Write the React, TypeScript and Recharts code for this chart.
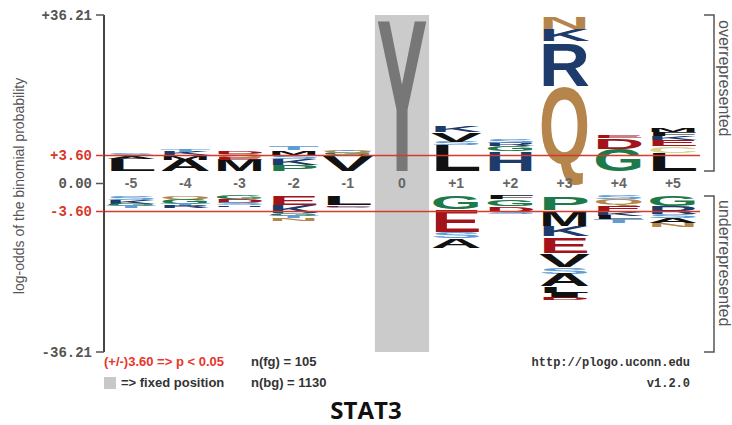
import React from "react";
import {
  ComposedChart,
  Bar,
  Line,
  XAxis,
  YAxis,
  ReferenceArea,
  ReferenceLine,
  LabelList,
} from "recharts";

// positions around the fixed residue
const positions = ["-5", "-4", "-3", "-2", "-1", "0", "+1", "+2", "+3", "+4", "+5"];

// overrepresented residues, stacked from the axis upward
const overLetters = [
  ["L", "A", "S"],
  ["A", "M", "K", "T"],
  ["M", "E", "Q", "D"],
  ["P", "K", "S", "M", "T"],
  ["V", "G", "Q", "T"],
  ["Y"],
  ["L", "S", "V", "K"],
  ["H", "G", "R", "S"],
  ["Q", "R", "K", "N"],
  ["G", "D", "E"],
  ["L", "C", "E", "K", "F", "M"],
];
const overHeights = [
  [2.8, 0.6, 0.5],
  [2.6, 1.0, 0.8, 0.7],
  [2.6, 0.7, 0.6, 0.5],
  [1.4, 1.4, 1.0, 1.0, 0.9],
  [3.6, 0.6, 0.5, 0.4],
  [36.21],
  [6.0, 0.8, 2.2, 1.4],
  [4.6, 1.2, 0.8, 0.9],
  [19.8, 10.3, 2.8, 2.6],
  [5.2, 2.5, 0.6],
  [4.2, 1.5, 1.4, 1.0, 1.0, 1.0],
];

// underrepresented residues, stacked from the axis downward
const underLetters = [
  ["S", "K", "G", "T"],
  ["Q", "G", "T", "R"],
  ["G", "D", "S", "H"],
  ["E", "K", "G", "T", "N"],
  ["L", "E", "S"],
  [],
  ["G", "E", "S", "A"],
  ["F", "G", "D", "S"],
  ["P", "M", "K", "E", "V", "S", "A", "L", "I", "D"],
  ["S", "Q", "E", "K", "L", "T"],
  ["G", "R", "S", "A", "N"],
];
const underHeights = [
  [1.0, 0.8, 0.6, 0.5],
  [0.7, 1.2, 0.5, 0.5],
  [0.8, 0.8, 0.5, 0.4],
  [2.2, 1.8, 0.6, 0.6, 0.6],
  [2.2, 0.4, 0.3],
  [],
  [3.0, 5.3, 1.5, 2.2],
  [0.8, 1.6, 1.2, 0.6],
  [3.2, 3.8, 2.4, 3.8, 3.2, 1.6, 3.0, 1.4, 1.2, 0.6],
  [0.8, 1.2, 1.6, 1.0, 0.8, 0.8],
  [2.3, 1.8, 1.0, 1.2, 0.8],
];

const tickValues = [36.21, 3.6, 0, -3.6, -36.21];
const tickLabels = ["+36.21", "+3.60", "0.00", "-3.60", "-36.21"];

const residueColors: Record<string, string> = {
  A: "#111111", V: "#111111", L: "#111111", I: "#111111", M: "#111111", F: "#111111", W: "#111111",
  K: "#1d3b6b", R: "#1d3b6b", H: "#1d3b6b",
  D: "#a3141a", E: "#a3141a",
  N: "#b5854b", Q: "#b5854b",
  G: "#1f7a4b", P: "#1f7a4b",
  S: "#5f9cd4", T: "#5f9cd4",
  C: "#d9d391",
  Y: "#777777",
};
const fixedColor = "#777777";
const sigColor = "#d63a2c";

const TOP = 36.21;
const SIG = 3.6;
const GAP = 5.8; // room for the position labels between the halves
const toChart = (v: number) => (v > 0 ? v : v === 0 ? -GAP / 2 : v - GAP);
const chartTicks = tickValues.map(toChart);

const OVER_LAYERS = 6;
const UNDER_LAYERS = 10;

const rows = positions.map((pos, i) => {
  const row: any = { pos, gap: -GAP, mid: -GAP / 2 };
  for (let k = 0; k < OVER_LAYERS; k++) {
    row[`u${k}`] = overHeights[i][k] ?? 0;
    row[`uL${k}`] = overLetters[i][k];
  }
  for (let k = 0; k < UNDER_LAYERS; k++) {
    row[`d${k}`] = -(underHeights[i][k] ?? 0);
    row[`dL${k}`] = underLetters[i][k];
  }
  return row;
});

const CAP = 71.6; // cap height of Liberation Sans Bold at 100px

const letterShape = (letterKey: string) => (props: any) => {
  const { x, y, width, height, payload } = props;
  const letter: string | undefined = payload?.[letterKey];
  if (!letter || !height || Math.abs(height) < 0.3) return <g />;
  const top = Math.min(y, y + height);
  const h = Math.abs(height);
  // Q has a tail below the baseline, keep it inside the cell
  const desc = letter === "Q" ? 7 : 0;
  const sy = h / (CAP + desc);
  const fill = payload.pos === "0" ? fixedColor : residueColors[letter] ?? "#111";
  return (
    <text
      transform={`translate(${x},${top + h - desc * sy}) scale(1,${sy})`}
      x={0}
      y={0}
      fontSize={100}
      fontFamily="'Liberation Sans', Arial, sans-serif"
      fontWeight="bold"
      fill={fill}
      textLength={width}
      lengthAdjust="spacingAndGlyphs"
    >
      {letter}
    </text>
  );
};

const renderYTick = (props: any) => {
  const { x, y, payload } = props;
  const i = chartTicks.findIndex((t) => Math.abs(t - payload.value) < 1e-6);
  if (i < 0) return <g />;
  const red = Math.abs(tickValues[i]) === SIG;
  const color = red ? sigColor : "#555";
  return (
    <g>
      <line x1={x - 8} y1={y} x2={x} y2={y} stroke={red ? sigColor : "#555"} strokeWidth={1.5} />
      <text
        x={x - 12}
        y={y}
        dy="0.35em"
        textAnchor="end"
        fontFamily="'Liberation Mono', 'Courier New', monospace"
        fontWeight="bold"
        fontSize={14}
        fill={color}
      >
        {tickLabels[i]}
      </text>
    </g>
  );
};

const renderPosLabel = (props: any) => {
  const { x, y, value } = props;
  return (
    <text
      x={x}
      y={y}
      dy="0.35em"
      textAnchor="middle"
      fontFamily="'Liberation Sans', Arial, sans-serif"
      fontWeight="bold"
      fontSize={14}
      fill="#666"
    >
      {value}
    </text>
  );
};

const frameLine = { stroke: "#444", strokeWidth: 2 };

export default function App() {
  return (
    <div style={{ position: "absolute", left: 0, top: 0, width: 732, height: 425, background: "#fff" }}>
      <ComposedChart
        width={732}
        height={360}
        data={rows}
        margin={{ top: 15, right: 32, bottom: 8, left: 0 }}
        barCategoryGap="3%"
        stackOffset="sign"
      >
        <ReferenceArea x1="0" x2="0" fill="#cbcbcb" fillOpacity={1} stroke="none" />
        <XAxis dataKey="pos" tick={false} tickLine={false} height={0} axisLine={frameLine} />
        <XAxis
          xAxisId="top"
          orientation="top"
          dataKey="pos"
          tick={false}
          tickLine={false}
          height={0}
          axisLine={frameLine}
        />
        <YAxis
          type="number"
          domain={[toChart(-TOP), TOP]}
          ticks={chartTicks}
          interval={0}
          allowDataOverflow
          width={104}
          tickLine={false}
          tickSize={0}
          tickMargin={0}
          tick={renderYTick}
          axisLine={frameLine}
        />
        <YAxis
          yAxisId="right"
          orientation="right"
          type="number"
          domain={[toChart(-TOP), TOP]}
          width={0}
          tick={false}
          tickLine={false}
          axisLine={frameLine}
        />
        <Bar dataKey="gap" stackId="s" fill="none" isAnimationActive={false} />
        {Array.from({ length: UNDER_LAYERS }, (_, k) => (
          <Bar
            key={`d${k}`}
            dataKey={`d${k}`}
            stackId="s"
            isAnimationActive={false}
            shape={letterShape(`dL${k}`)}
          />
        ))}
        {Array.from({ length: OVER_LAYERS }, (_, k) => (
          <Bar
            key={`u${k}`}
            dataKey={`u${k}`}
            stackId="s"
            isAnimationActive={false}
            shape={letterShape(`uL${k}`)}
          />
        ))}
        <ReferenceLine y={SIG} stroke={sigColor} strokeWidth={1.5} />
        <ReferenceLine y={toChart(-SIG)} stroke={sigColor} strokeWidth={1.5} />
        <Line
          dataKey="mid"
          stroke="none"
          dot={false}
          activeDot={false}
          isAnimationActive={false}
        >
          <LabelList dataKey="pos" content={renderPosLabel} />
        </Line>
      </ComposedChart>

      <svg
        width={732}
        height={425}
        style={{ position: "absolute", left: 0, top: 0, pointerEvents: "none" }}
      >
        <text
          transform="translate(24,186) rotate(-90)"
          textAnchor="middle"
          fontFamily="'Liberation Sans', Arial, sans-serif"
          fontSize={14}
          fill="#555"
        >
          log-odds of the binomial probability
        </text>

        <path d="M704,15 H714 V171 H704" fill="none" stroke="#555" strokeWidth={1.5} />
        <path d="M704,196 H714 V352 H704" fill="none" stroke="#555" strokeWidth={1.5} />
        <text
          transform="translate(719,20) rotate(90)"
          fontFamily="'Liberation Sans', Arial, sans-serif"
          fontSize={16}
          fill="#555"
        >
          overrepresented
        </text>
        <text
          transform="translate(719,200) rotate(90)"
          fontFamily="'Liberation Sans', Arial, sans-serif"
          fontSize={16}
          fill="#555"
        >
          underrepresented
        </text>

        <g fontFamily="'Liberation Sans', Arial, sans-serif" fontSize={13} fontWeight="bold">
          <text x={104} y={366} fill="#e8352b">(+/-)3.60 =&gt; p &lt; 0.05</text>
          <rect x={104} y={377} width={12} height={12} fill="#c8c8c8" />
          <text x={121} y={387} fill="#333">=&gt; fixed position</text>
          <text x={251} y={366} fill="#333">n(fg) = 105</text>
          <text x={251} y={387} fill="#333">n(bg) = 1130</text>
        </g>
        <g fontFamily="'Liberation Mono', 'Courier New', monospace" fontSize={12} fontWeight="bold" fill="#333">
          <text x={690} y={366} textAnchor="end">http://plogo.uconn.edu</text>
          <text x={690} y={387} textAnchor="end">v1.2.0</text>
        </g>
        <text
          x={366}
          y={419}
          textAnchor="middle"
          fontFamily="'Open Sans', sans-serif"
          fontWeight="bold"
          fontSize={24}
          fill="#111"
        >
          STAT3
        </text>
      </svg>
    </div>
  );
}
